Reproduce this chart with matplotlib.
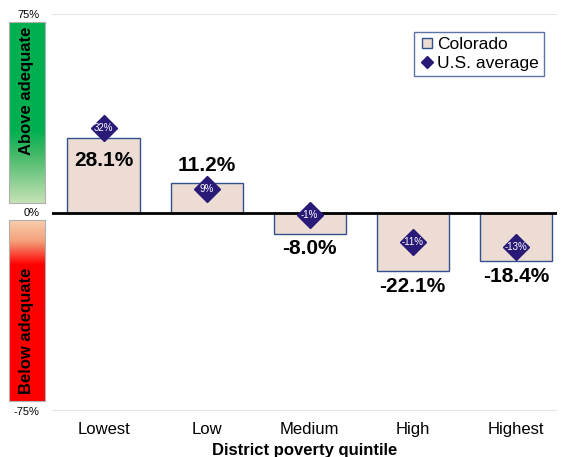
import matplotlib.pyplot as plt
import numpy as np
from matplotlib.colors import LinearSegmentedColormap
from matplotlib.lines import Line2D

plt.rcParams['font.family'] = ['Liberation Sans', 'DejaVu Sans']

quintiles = ["Lowest", "Low", "Medium", "High", "Highest"]
colorado = [28.1, 11.2, -8.0, -22.1, -18.4]
us_average = [32, 9, -1, -11, -13]
colorado_labels = ["28.1%", "11.2%", "-8.0%", "-22.1%", "-18.4%"]
us_labels = ["32%", "9%", "-1%", "-11%", "-13%"]

bar_color = "#ecdcd3"
bar_edge = "#34508f"
diamond_color = "#2a1a78"

fig = plt.figure(figsize=(5.61, 4.57), dpi=100)
ax = fig.add_axes([52 / 561, 46 / 457, 505 / 561, 397 / 457])

x = np.arange(len(quintiles))
ax.bar(x, colorado, width=0.7, color=bar_color, edgecolor=bar_edge, linewidth=1, zorder=2)
ax.plot(x, us_average, linestyle="none", marker="D", markersize=13,
        color=diamond_color, zorder=4)

for xi, v, lab in zip(x, us_average, us_labels):
    ax.text(xi, v, lab, color="white", fontsize=7, ha="center", va="center", zorder=5)

# Colorado value labels
for xi, v, lab in zip(x, colorado, colorado_labels):
    if xi == 0:
        # first bar: label sits inside, under the diamond
        ax.annotate(lab, (xi, v), xytext=(0, -9), textcoords="offset points",
                    ha="center", va="top", fontsize=15, fontweight="bold", zorder=3)
    elif v > 0:
        ax.annotate(lab, (xi, v), xytext=(0, 6), textcoords="offset points",
                    ha="center", va="bottom", fontsize=15, fontweight="bold", zorder=3)
    else:
        ax.annotate(lab, (xi, v), xytext=(0, -4), textcoords="offset points",
                    ha="center", va="top", fontsize=15, fontweight="bold", zorder=3)

ax.axhline(0, color="black", linewidth=2, zorder=3)
ax.axhline(75, color="#e3e3e3", linewidth=1.5, zorder=1)
ax.axhline(-75, color="#e3e3e3", linewidth=1.5, zorder=1)

ax.set_xlim(-0.5, 4.4)
ax.set_ylim(-75, 75)
ax.set_xticks(x)
ax.set_xticklabels(quintiles, fontsize=12)
ax.set_yticks([-75, 0, 75])
ax.set_yticklabels(["-75%", "0%", "75%"], fontsize=8)
ax.tick_params(length=0)
ax.tick_params(axis="x", pad=8)
ax.tick_params(axis="y", pad=9)
for s in ax.spines.values():
    s.set_visible(False)

fig.text(305 / 561, 7 / 457, "District poverty quintile", fontsize=12,
         fontweight="bold", ha="center", va="center")

# legend
handles = [
    Line2D([], [], linestyle="none", marker="s", markersize=7,
           markerfacecolor=bar_color, markeredgecolor=bar_edge, markeredgewidth=1),
    Line2D([], [], linestyle="none", marker="D", markersize=6, color=diamond_color),
]
leg = ax.legend(handles, ["Colorado", "U.S. average"], loc="upper right",
                bbox_to_anchor=(544 / 561, (457 - 32) / 457),
                bbox_transform=fig.transFigure, fontsize=12.5, fancybox=False,
                handletextpad=0.05, handlelength=1.0, borderpad=0.3,
                labelspacing=0.2, borderaxespad=0)
leg.get_frame().set_edgecolor(bar_edge)
leg.get_frame().set_linewidth(1)

# gradient side bars
green_cmap = LinearSegmentedColormap.from_list(
    "g", [(0, "#c6e2b5"), (0.25, "#4cbb6c"), (0.4, "#00b050"), (1, "#00b050")])
red_cmap = LinearSegmentedColormap.from_list(
    "r", [(0, "#ff0000"), (0.75, "#ff0000"), (0.88, "#f4a07a"), (1, "#f8d0b0")])
grad = np.linspace(0, 1, 256).reshape(-1, 1)

gax = fig.add_axes([9 / 561, (457 - 203) / 457, 36 / 561, 181 / 457])
gax.imshow(grad, aspect="auto", cmap=green_cmap, origin="lower", extent=[0, 1, 0, 1])
gax.set_xticks([])
gax.set_yticks([])
for s in gax.spines.values():
    s.set_color("#b0b0b0")
    s.set_linewidth(0.8)
gax.text(0.5, 0.62, "Above adequate", rotation=90, fontsize=12, fontweight="bold",
         ha="center", va="center", transform=gax.transAxes)

rax = fig.add_axes([9 / 561, (457 - 401) / 457, 36 / 561, 181 / 457])
rax.imshow(grad, aspect="auto", cmap=red_cmap, origin="lower", extent=[0, 1, 0, 1])
rax.set_xticks([])
rax.set_yticks([])
for s in rax.spines.values():
    s.set_color("#b0b0b0")
    s.set_linewidth(0.8)
rax.text(0.5, 0.39, "Below adequate", rotation=90, fontsize=12, fontweight="bold",
         ha="center", va="center", transform=rax.transAxes)

plt.savefig("out.png", dpi=100)
plt.close()
